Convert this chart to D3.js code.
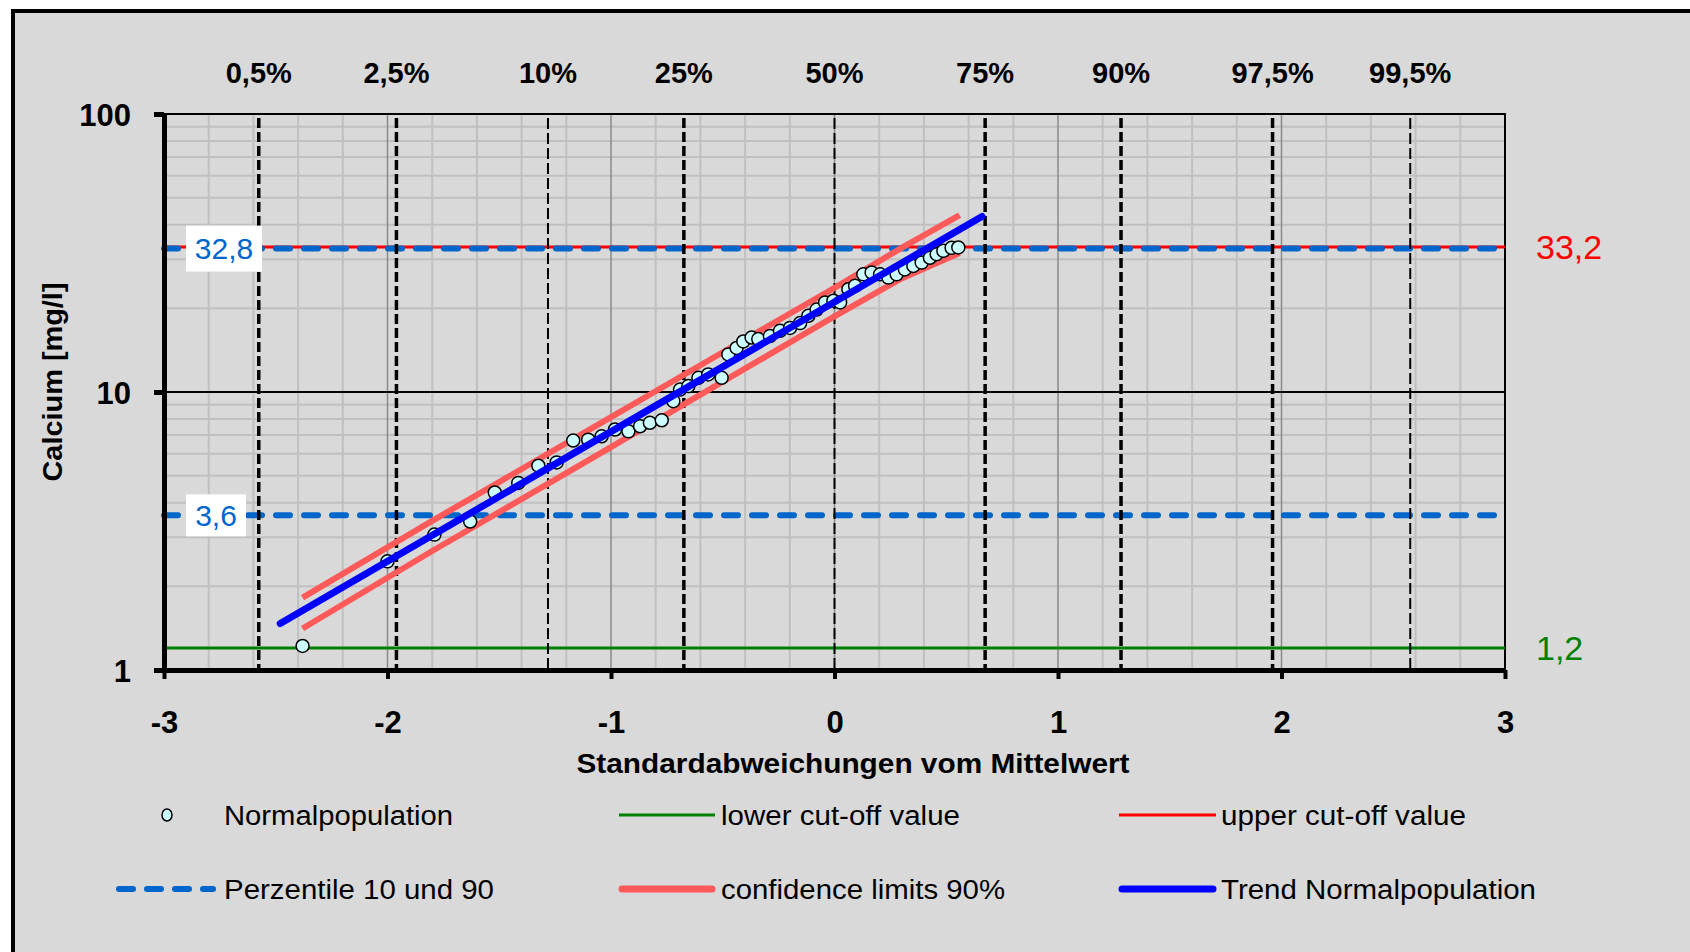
<!DOCTYPE html>
<html>
<head>
<meta charset="utf-8">
<script src="https://cdn.jsdelivr.net/npm/d3@7"></script>
<style>
  html, body { margin: 0; padding: 0; background: #ffffff; }
  svg { display: block; font-family: "Liberation Sans", Arial, sans-serif; }
</style>
</head>
<body>
<svg id="chart" width="1690" height="952"></svg>
<script>
// ---- data: normal probability plot of calcium values ----
const pointZ = [-2.38, -2.00, -1.79, -1.63, -1.52, -1.415, -1.325, -1.243, -1.169, -1.102,
  -1.042, -0.982, -0.922, -0.870, -0.826, -0.773, -0.721, -0.691, -0.654, -0.609,
  -0.565, -0.505, -0.475, -0.438, -0.408, -0.371, -0.341, -0.289, -0.244, -0.199,
  -0.154, -0.117, -0.080, -0.042, -0.005, 0.025, 0.062, 0.092, 0.129, 0.166,
  0.204, 0.241, 0.278, 0.315, 0.353, 0.390, 0.427, 0.457, 0.487, 0.524, 0.554];
const pointValues = [1.22, 2.46, 3.07, 3.42, 4.35, 4.71, 5.43, 5.58, 6.69, 6.74,
  6.93, 7.33, 7.22, 7.53, 7.75, 7.91, 9.27, 10.2, 10.5, 11.25,
  11.56, 11.25, 13.65, 14.4, 15.2, 15.7, 15.5, 15.9, 16.6, 17.0,
  17.7, 18.8, 19.8, 21.0, 21.3, 21.0, 23.4, 24.1, 26.5, 26.9,
  26.5, 25.8, 26.5, 27.6, 28.4, 29.2, 30.4, 31.3, 32.2, 33.0, 33.1];

const trendZ = [-2.48, 0.66];
const trendValues = [1.47, 42.8];

const bandZ = [-2.38, -1.8, -1.05, -0.5, 0, 0.3, 0.56];
const bandUpper = [1.82, 3.44, 7.7, 13.9, 23.7, 33.0, 43.3];
const bandLower = [1.41, 2.68, 6.0, 10.9, 18.7, 25.6, 31.6];

const percentileLabels = ["0,5%", "2,5%", "10%", "25%", "50%", "75%", "90%", "97,5%", "99,5%"];
const percentileZ = [-2.576, -1.960, -1.282, -0.674, 0, 0.674, 1.282, 1.960, 2.576];
const percentileHeavy = [true, true, false, true, false, true, true, true, false];

const perc10 = 3.6, perc90 = 32.8;
const lowerCutoff = 1.2, upperCutoff = 33.2;

const yTicks = [1, 10, 100];
const xTicks = [-3, -2, -1, 0, 1, 2, 3];
const yMinorGrid = [2, 3, 4, 5, 6, 7, 8, 9, 20, 30, 40, 50, 60, 70, 80, 90];
const xGridStep = 0.2;

const legendItems = [
  { label: "Normalpopulation", kind: "point", col: 0, row: 0, len: 229 },
  { label: "lower cut-off value", kind: "green", col: 1, row: 0, len: 239 },
  { label: "upper cut-off value", kind: "red", col: 2, row: 0, len: 245 },
  { label: "Perzentile 10 und 90", kind: "perc", col: 0, row: 1, len: 270 },
  { label: "confidence limits 90%", kind: "band", col: 1, row: 1, len: 284 },
  { label: "Trend Normalpopulation", kind: "trend", col: 2, row: 1, len: 315 }
];

// ---- styles ----
const C = {
  bg: "#d9d9d9", minor: "#c0c0c0", major: "#8a8a8a",
  blueDash: "#0066cc", red: "#ff0000", green: "#008000",
  band: "#ff5a5a", trend: "#0000ff", pointFill: "#ccffff"
};

const svg = d3.select("#chart");

// outer panel
svg.append("rect").attr("x", 13).attr("y", 11).attr("width", 1700).attr("height", 960)
  .attr("fill", C.bg).attr("stroke", "#000").attr("stroke-width", 4);

const x = d3.scaleLinear().domain([-3, 3]).range([164, 1505]);
const y = d3.scaleLog().domain([1, 100]).range([670, 114]);
const [x0, x1] = x.range();
const [yb, yt] = y.range();

// ---- grid ----
const grid = svg.append("g");
const xMinor = d3.range(-3, 3 + 1e-9, xGridStep).filter(v => Math.abs(v - Math.round(v)) > 1e-6);
grid.selectAll(".ym").data(yMinorGrid).join("line")
  .attr("x1", x0).attr("x2", x1).attr("y1", d => y(d)).attr("y2", d => y(d))
  .attr("stroke", C.minor).attr("stroke-width", 2);
grid.selectAll(".xm").data(xMinor).join("line")
  .attr("x1", d => x(d)).attr("x2", d => x(d)).attr("y1", yt).attr("y2", yb)
  .attr("stroke", C.minor).attr("stroke-width", 2);
grid.selectAll(".xM").data(xTicks.slice(1, -1)).join("line")
  .attr("x1", d => x(d)).attr("x2", d => x(d)).attr("y1", yt).attr("y2", yb)
  .attr("stroke", C.major).attr("stroke-width", 1.5);
grid.append("line").attr("x1", x0).attr("x2", x1).attr("y1", y(10)).attr("y2", y(10))
  .attr("stroke", "#000").attr("stroke-width", 2);
// top and right frame
grid.append("path").attr("d", `M${x0},${yt}H${x1}V${yb}`).attr("fill", "none")
  .attr("stroke", "#000").attr("stroke-width", 2);

// ---- horizontal reference lines ----
const lineG = d3.line().x(d => x(d[0])).y(d => y(d[1]));
svg.append("path").datum([[-3, upperCutoff], [3, upperCutoff]]).attr("d", lineG)
  .attr("stroke", C.red).attr("stroke-width", 3).attr("fill", "none");
svg.append("path").datum([[-3, lowerCutoff], [3, lowerCutoff]]).attr("d", lineG)
  .attr("stroke", C.green).attr("stroke-width", 3).attr("fill", "none");
[perc90, perc10].forEach(v => {
  svg.append("path").datum([[-3, v], [3, v]]).attr("d", lineG)
    .attr("stroke", C.blueDash).attr("stroke-width", 6).attr("stroke-linecap", "round")
    .attr("stroke-dasharray", "14,14").attr("fill", "none");
});

// ---- percentile verticals ----
svg.selectAll(".pl").data(percentileZ).join("line")
  .attr("x1", d => x(d)).attr("x2", d => x(d)).attr("y1", yt + 4).attr("y2", yb)
  .attr("stroke", "#000")
  .attr("stroke-width", (d, i) => percentileHeavy[i] ? 3.5 : 2)
  .attr("stroke-dasharray", (d, i) => percentileHeavy[i] ? "10,4" : "11,4");
svg.selectAll(".pt").data(percentileLabels).join("text")
  .attr("x", (d, i) => x(percentileZ[i])).attr("y", 73).attr("dy", "0.35em")
  .attr("text-anchor", "middle").attr("font-size", 29).attr("font-weight", "bold")
  .attr("fill", "#000").text(d => d);

// ---- percentile value boxes ----
[[perc90, "32,8", 76, 46], [perc10, "3,6", 60, 42]].forEach(([v, t, w, h]) => {
  svg.append("rect").attr("x", 186).attr("y", y(v) - h / 2).attr("width", w).attr("height", h)
    .attr("fill", "#ffffff");
  svg.append("text").attr("x", 186 + w / 2).attr("y", y(v)).attr("dy", "0.36em")
    .attr("text-anchor", "middle").attr("font-size", 30).attr("fill", C.blueDash).text(t);
});

// ---- confidence band and data ----
const bandLine = d3.line().x(d => x(d[0])).y(d => y(d[1]));
[bandUpper, bandLower].forEach(arr => {
  svg.append("path").datum(bandZ.map((z, i) => [z, arr[i]])).attr("d", bandLine)
    .attr("fill", "none").attr("stroke", C.band).attr("stroke-width", 6);
});
svg.append("g").selectAll("circle").data(pointZ.map((z, i) => [z, pointValues[i]])).join("circle")
  .attr("cx", d => x(d[0])).attr("cy", d => y(d[1])).attr("r", 6.5)
  .attr("fill", C.pointFill).attr("stroke", "#000").attr("stroke-width", 1.5);
svg.append("path").datum(trendZ.map((z, i) => [z, trendValues[i]])).attr("d", lineG)
  .attr("fill", "none").attr("stroke", C.trend).attr("stroke-width", 7).attr("stroke-linecap", "round");

// ---- axes ----
const gy = svg.append("g").attr("transform", `translate(${x0},0)`)
  .call(d3.axisLeft(y).tickValues(yTicks).tickFormat(d3.format("d")).tickSize(10).tickSizeOuter(0));
gy.attr("font-size", null).attr("font-family", null);
gy.select(".domain").attr("stroke-width", 5).attr("stroke", "#000");
gy.selectAll(".tick line").attr("stroke-width", 5).attr("stroke", "#000");
gy.selectAll(".tick text").attr("x", -33).attr("dy", "0.36em").attr("font-size", 31)
  .attr("font-weight", "bold").attr("fill", "#000");

const gx = svg.append("g").attr("transform", `translate(0,${yb})`)
  .call(d3.axisBottom(x).tickValues(xTicks).tickFormat(d => String(d)).tickSize(9).tickSizeOuter(0));
gx.attr("font-size", null).attr("font-family", null);
gx.select(".domain").attr("stroke-width", 5).attr("stroke", "#000");
gx.selectAll(".tick line").attr("stroke-width", 4).attr("stroke", "#000");
gx.selectAll(".tick text").attr("y", 52).attr("dy", "0.36em").attr("font-size", 31)
  .attr("font-weight", "bold").attr("fill", "#000");

// axis titles
svg.append("text").attr("x", 853).attr("y", 763).attr("dy", "0.36em").attr("text-anchor", "middle")
  .attr("font-size", 28).attr("font-weight", "bold").attr("textLength", 553)
  .attr("lengthAdjust", "spacingAndGlyphs").text("Standardabweichungen vom Mittelwert");
svg.append("text").attr("transform", "translate(52,382) rotate(-90)").attr("dy", "0.36em")
  .attr("text-anchor", "middle").attr("font-size", 28).attr("font-weight", "bold")
  .attr("textLength", 199).attr("lengthAdjust", "spacingAndGlyphs").text("Calcium [mg/l]");

// cut-off values at the right
svg.append("text").attr("x", 1536).attr("y", y(upperCutoff)).attr("dy", "0.36em")
  .attr("font-size", 34).attr("fill", C.red).text("33,2");
svg.append("text").attr("x", 1536).attr("y", y(lowerCutoff)).attr("dy", "0.36em")
  .attr("font-size", 34).attr("fill", C.green).text("1,2");

// ---- legend ----
const legX = [[116, 216, 224], [619, 715, 721], [1119, 1216, 1221]];
const legY = [815, 889];
const leg = svg.append("g");
legendItems.forEach(it => {
  const [a, b, tx] = legX[it.col];
  const ly = legY[it.row];
  if (it.kind === "point") {
    leg.append("ellipse").attr("cx", 167).attr("cy", ly).attr("rx", 5).attr("ry", 6)
      .attr("fill", C.pointFill).attr("stroke", "#000").attr("stroke-width", 1.5);
  } else {
    const style = {
      green: [C.green, 3, null, "butt"], red: [C.red, 3, null, "butt"],
      perc: [C.blueDash, 6, "14,14", "round"], band: [C.band, 7, null, "round"],
      trend: [C.trend, 7, null, "round"]
    }[it.kind];
    leg.append("line").attr("x1", a + (style[3] === "round" ? 3 : 0)).attr("x2", b - (style[3] === "round" ? 3 : 0))
      .attr("y1", ly).attr("y2", ly)
      .attr("stroke", style[0]).attr("stroke-width", style[1]).attr("stroke-linecap", style[3])
      .attr("stroke-dasharray", style[2]);
  }
  leg.append("text").attr("x", tx).attr("y", ly).attr("dy", "0.36em").attr("font-size", 27)
    .attr("fill", "#000").attr("textLength", it.len).attr("lengthAdjust", "spacingAndGlyphs")
    .text(it.label);
});
</script>
</body>
</html>
